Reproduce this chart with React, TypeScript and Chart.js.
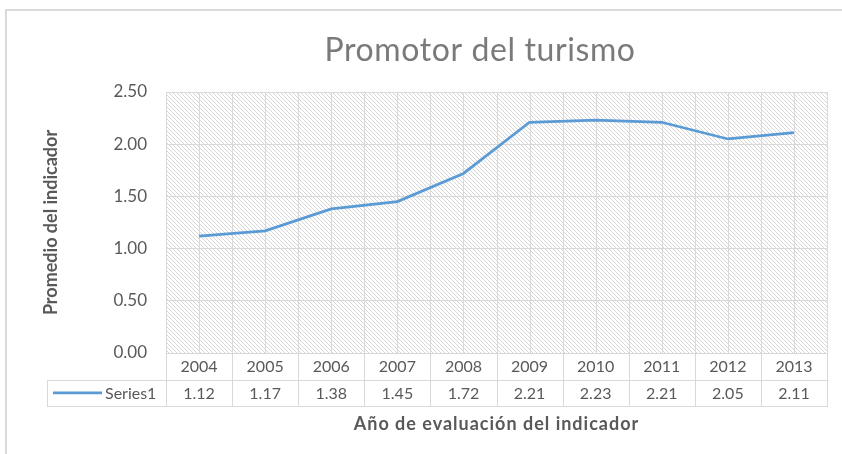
import React, { useEffect, useRef } from 'react';
import { Chart, registerables } from 'chart.js';

Chart.register(...registerables);

const years = ['2004', '2005', '2006', '2007', '2008', '2009', '2010', '2011', '2012', '2013'];
const values = [1.12, 1.17, 1.38, 1.45, 1.72, 2.21, 2.23, 2.21, 2.05, 2.11];
const seriesName = 'Series1';
const chartTitle = 'Promotor del turismo';
const xTitle = 'Año de evaluación del indicador';
const yTitle = 'Promedio del indicador';
const yMin = 0;
const yMax = 2.5;
const yStep = 0.5;

const FONT = 'Lato, "Open Sans", sans-serif';
const LINE = '#5B9BD5';
const GRID = '#d9d9d9';
const TEXT = '#595959';

function makeHatch(ctx: CanvasRenderingContext2D) {
  const c = document.createElement('canvas');
  c.width = 4;
  c.height = 4;
  const g = c.getContext('2d')!;
  g.fillStyle = '#ffffff';
  g.fillRect(0, 0, 4, 4);
  g.fillStyle = '#d6d6d6';
  for (let i = 0; i < 4; i++) g.fillRect(i, i, 1, 1);
  return ctx.createPattern(c, 'repeat');
}

const decor = {
  id: 'decor',
  beforeDraw(chart: any) {
    const { ctx, chartArea: a, width, height } = chart;
    ctx.save();
    ctx.fillStyle = '#ffffff';
    ctx.fillRect(0, 0, width, height);
    // outer frame (top & left visible)
    ctx.fillStyle = '#d9d9d9';
    ctx.fillRect(5, 9, width - 5, 2);
    ctx.fillRect(5, 9, 2, height - 9);
    // hatched plot area
    const pat = makeHatch(ctx);
    if (pat) {
      ctx.fillStyle = pat;
      ctx.fillRect(a.left, a.top, a.right - a.left, a.bottom - a.top);
    }
    ctx.restore();
  },
  beforeDatasetsDraw(chart: any) {
    const { ctx, chartArea: a } = chart;
    const xs = chart.scales.x;
    const w = xs.getPixelForValue(1) - xs.getPixelForValue(0);
    ctx.save();
    ctx.strokeStyle = GRID;
    ctx.lineWidth = 1;
    ctx.beginPath();
    for (let i = 0; i < years.length; i++) {
      const cx = xs.getPixelForValue(i);
      for (const px of [cx - w / 2, cx, cx + w / 2]) {
        const p = Math.round(px) + 0.5;
        ctx.moveTo(p, a.top);
        ctx.lineTo(p, a.bottom);
      }
    }
    ctx.stroke();
    ctx.restore();
  },
  afterDraw(chart: any) {
    const { ctx, chartArea: a } = chart;
    const xs = chart.scales.x;
    const w = xs.getPixelForValue(1) - xs.getPixelForValue(0);
    const rowH = 26.5;
    const top = a.bottom;
    const mid = top + rowH;
    const bot = mid + rowH;
    const tableLeft = 47;
    ctx.save();
    // table lines
    ctx.strokeStyle = GRID;
    ctx.lineWidth = 1;
    ctx.beginPath();
    ctx.moveTo(a.left, Math.round(top) + 0.5);
    ctx.lineTo(a.right, Math.round(top) + 0.5);
    ctx.moveTo(tableLeft, Math.round(mid) + 0.5);
    ctx.lineTo(a.right, Math.round(mid) + 0.5);
    ctx.moveTo(tableLeft, Math.round(bot) + 0.5);
    ctx.lineTo(a.right, Math.round(bot) + 0.5);
    ctx.moveTo(tableLeft + 0.5, Math.round(mid));
    ctx.lineTo(tableLeft + 0.5, Math.round(bot) + 1);
    for (let i = 0; i <= years.length; i++) {
      const px = Math.round(xs.getPixelForValue(i) - w / 2) + 0.5;
      ctx.moveTo(px, top);
      ctx.lineTo(px, bot + 1);
    }
    ctx.stroke();
    // table text
    ctx.fillStyle = TEXT;
    ctx.font = `16px ${FONT}`;
    ctx.textAlign = 'center';
    ctx.textBaseline = 'middle';
    years.forEach((y, i) => {
      const cx = xs.getPixelForValue(i);
      ctx.fillText(y, cx, top + rowH / 2 + 1);
      ctx.fillText(values[i].toFixed(2), cx, mid + rowH / 2 + 1);
    });
    // legend key
    ctx.strokeStyle = LINE;
    ctx.lineWidth = 2.75;
    ctx.beginPath();
    ctx.moveTo(53, mid + rowH / 2);
    ctx.lineTo(102, mid + rowH / 2);
    ctx.stroke();
    ctx.textAlign = 'left';
    ctx.fillText(seriesName, 105, mid + rowH / 2 + 1);
    // x title
    ctx.font = `bold 18px ${FONT}`;
    (ctx as any).letterSpacing = '1px';
    ctx.textAlign = 'center';
    ctx.fillText(xTitle, (a.left + a.right) / 2, 424);
    // chart title
    ctx.fillStyle = '#7a7a7a';
    ctx.font = `32px ${FONT}`;
    (ctx as any).letterSpacing = '0.6px';
    ctx.fillText(chartTitle, 480, 51);
    (ctx as any).letterSpacing = '0px';
    ctx.restore();
  },
};

export default function App() {
  const ref = useRef<HTMLCanvasElement>(null);
  useEffect(() => {
    document.body.style.margin = '0';
    const chart = new Chart(ref.current!, {
      type: 'line',
      data: {
        labels: years,
        datasets: [
          {
            label: seriesName,
            data: values,
            borderColor: LINE,
            backgroundColor: LINE,
            borderWidth: 2.75,
            pointRadius: 0,
            tension: 0,
          },
        ],
      },
      options: {
        animation: false,
        responsive: false,
        maintainAspectRatio: false,
        layout: { padding: { left: 30, right: 15, top: 92, bottom: 101 } },
        plugins: { legend: { display: false }, tooltip: { enabled: false }, title: { display: false } },
        scales: {
          x: { type: 'category', display: false, offset: true },
          y: {
            min: yMin,
            max: yMax,
            ticks: {
              stepSize: yStep,
              color: TEXT,
              font: { family: FONT, size: 17 },
              padding: 19,
              callback: (v: any) => Number(v).toFixed(2),
            },
            grid: { color: GRID, drawTicks: false },
            border: { display: false },
            title: {
              display: true,
              text: yTitle,
              color: TEXT,
              font: { family: FONT, size: 18, weight: 'bold' },
              padding: { top: 10, bottom: 0 },
            },
            afterFit: (s: any) => {
              s.width = 136;
            },
          },
        },
      },
      plugins: [decor],
    });
    return () => chart.destroy();
  }, []);
  return (
    <div style={{ width: 842, height: 454 }}>
      <canvas ref={ref} width={842} height={454} style={{ display: 'block' }} />
    </div>
  );
}
